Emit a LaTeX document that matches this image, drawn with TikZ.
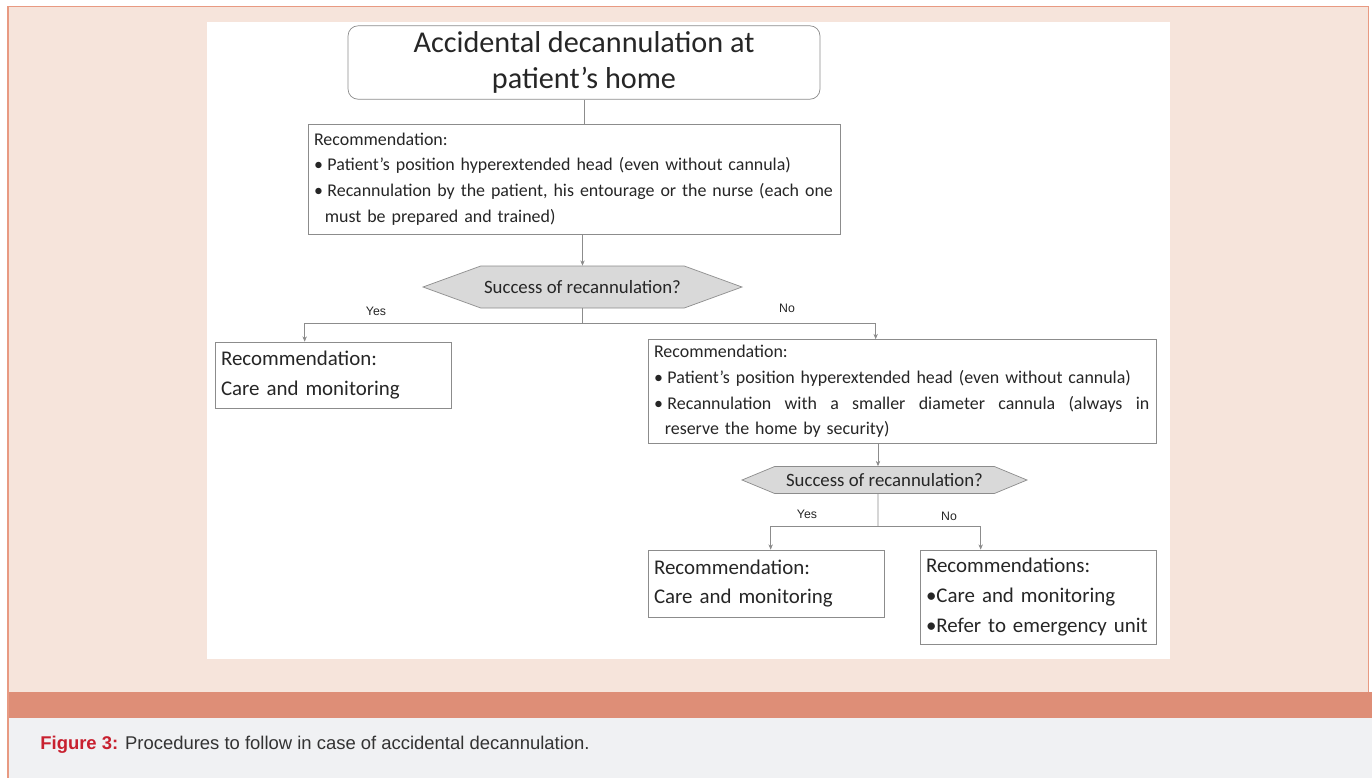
\documentclass[tikz,border=0pt]{standalone}
\usepackage{fontspec}
\setmainfont{Carlito}
\newfontfamily\capfont{Liberation Sans}
\usetikzlibrary{shapes.symbols,arrows.meta}

\definecolor{framecol}{HTML}{E89A82}
\definecolor{pinkbg}{HTML}{F6E4DB}
\definecolor{bandcol}{HTML}{DE8E77}
\definecolor{graybg}{HTML}{F0F1F3}
\definecolor{capred}{HTML}{C8202F}
\definecolor{captext}{HTML}{333333}
\definecolor{boxgray}{HTML}{8C8C8C}
\definecolor{hexgray}{HTML}{D9D9D9}
\definecolor{inktext}{HTML}{262626}

\tikzset{
	recbox/.style={draw=boxgray, fill=white, rectangle, inner xsep=0.12cm, align=left, text=inktext, font=\fontsize{10.2}{14.6}\selectfont},
	bigbox/.style={draw=boxgray, fill=white, rectangle, inner xsep=0.12cm, align=left, text=inktext, font=\fontsize{11.9}{17}\selectfont},
	decision/.style={draw=boxgray, fill=hexgray, signal, signal to=east and west, inner sep=0pt, text=inktext, font=\fontsize{10.7}{12}\selectfont},
	arr/.style={draw=boxgray, -{Stealth[length=3pt,width=2.5pt]}},
	link/.style={draw=boxgray},
	lbl/.style={text=inktext, font=\capfont\fontsize{7}{8}\selectfont}
}

\begin{document}
\begin{tikzpicture}[x=0.02cm, y=-0.02cm]
				\useasboundingbox (0,0) rectangle (1372,778);

				% Page background and frame
				\fill[white] (0,0) rectangle (1372,778);
				\fill[pinkbg] (8,6) rectangle (1368,692);
				\draw[framecol] (8,6) -- (1368,6) -- (1368,692);
				\fill[bandcol] (8,692) rectangle (1372,718);
				\fill[graybg] (8,718) rectangle (1372,778);
				\draw[framecol, line width=1pt] (8,6) -- (8,778);
				\fill[white] (207,22) rectangle (1170,659);

				% Start
				\node[draw=boxgray, fill=white, rounded corners=0.2cm, minimum width=9.44cm, minimum height=1.3cm, align=center, text=inktext, font=\fontsize{17.2}{20.4}\selectfont] (home) at (584,62.5) {Accidental decannulation at\\patient's home};

				% First recommendation
				\node[recbox, text width=10.4cm, minimum height=2.2cm] (reca) at (574,179) {Recommendation:\\
					\textbullet\hspace{0.25em}Patient's position hyperextended head (even without cannula)\\
					\textbullet\hspace{0.25em}\mbox{Recannulation by the patient, his entourage or the nurse (each one}\\
					\hspace*{0.6em}must be prepared and trained)};
				\draw[link] (home.south) -- (home.south |- reca.north);

				% First decision
				\node[decision, minimum width=6.38cm, minimum height=0.84cm, signal pointer angle=40] (hexa) at (582.5,287) {Success of recannulation?};
				\draw[arr] (reca.south -| hexa.north) -- (hexa.north);

				% Yes: care
				\node[bigbox, text width=4.48cm, minimum height=1.32cm] (carea) at (333,375) {Recommendation:\\Care and monitoring};

				% No: second recommendation
				\node[recbox, text width=9.92cm, minimum height=2.06cm] (recb) at (902,391.5) {Recommendation:\\
					\textbullet\hspace{0.25em}Patient's position hyperextended head (even without cannula)\\
					\textbullet\hspace{0.25em}\hbox to 9.64cm{Recannulation\hfill with\hfill a\hfill smaller\hfill diameter\hfill cannula\hfill (always\hfill in}\\
					\hspace*{0.6em}reserve the home by security)};

				\coordinate (splita) at (582.5,323);
				\draw[link] (hexa.south) -- (splita);
				\draw[arr] (splita) -| ([xshift=1.8cm]carea.north west);
				\draw[arr] (splita) -| ([xshift=4.56cm]recb.north west);
				\node[lbl] (yesa) at (376,311) {Yes};
				\node[lbl] (noa) at (787,308) {No};

				% Second decision
				\node[decision, minimum width=5.7cm, minimum height=0.54cm, signal pointer angle=45] (hexb) at (884.5,480) {Success of recannulation?};
				\coordinate (topb) at ([xshift=-0.13cm]hexb.north);
				\coordinate (botb) at ([xshift=-0.13cm]hexb.south);
				\draw[arr] (recb.south -| topb) -- (topb);

				% Outcomes
				\node[bigbox, text width=4.48cm, minimum height=1.34cm] (carec) at (766,583.5) {Recommendation:\\Care and monitoring};
				\node[bigbox, text width=4.48cm, minimum height=1.88cm] (refer) at (1038,597) {Recommendations:\\
					\textbullet Care and monitoring\\
					\textbullet Refer to emergency unit};

				\coordinate (splitb) at (878,526);
				\draw[link] (botb) -- (splitb);
				\draw[arr] (splitb) -| ([xshift=2.46cm]carec.north west);
				\draw[arr] (splitb) -| ([xshift=1.22cm]refer.north west);
				\node[lbl] (yesb) at (807,514) {Yes};
				\node[lbl] (nob) at (949,516) {No};

				% Caption
				\node[anchor=west, inner sep=0pt, text=captext, font=\capfont\fontsize{10.5}{12}\selectfont] (caption) at (40,745) {\textcolor{capred}{\textbf{Figure 3:}} Procedures to follow in case of accidental decannulation.};
			\end{tikzpicture}
\end{document}
